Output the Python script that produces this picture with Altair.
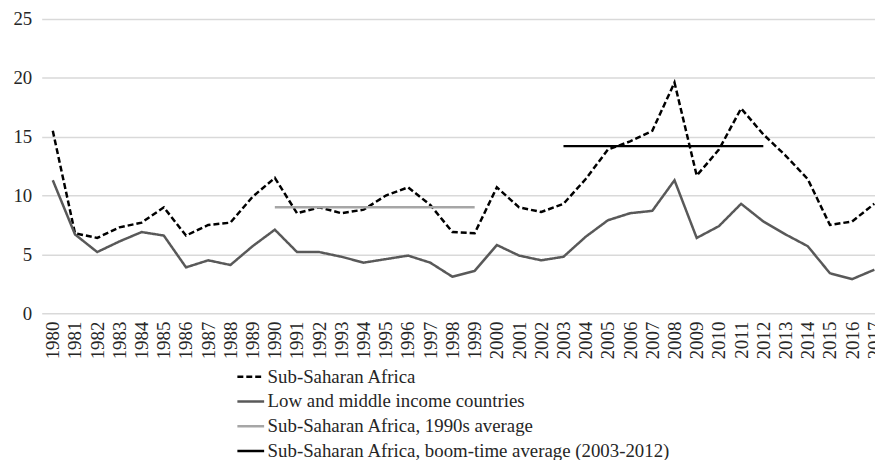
import altair as alt
import pandas as pd

years = list(range(1980, 2018))
ssa = [15.5, 6.8, 6.4, 7.3, 7.7, 9.0, 6.6, 7.5, 7.7, 9.9,
       11.5, 8.5, 9.0, 8.5, 8.8, 10.0, 10.7, 9.2, 6.9, 6.8,
       10.7, 9.0, 8.6, 9.3, 11.4, 13.9, 14.6, 15.5, 19.6, 11.7,
       13.9, 17.4, 15.2, 13.4, 11.4, 7.5, 7.8, 9.3]
lmic = [11.3, 6.7, 5.2, 6.1, 6.9, 6.6, 3.9, 4.5, 4.1, 5.7,
        7.1, 5.2, 5.2, 4.8, 4.3, 4.6, 4.9, 4.3, 3.1, 3.6,
        5.8, 4.9, 4.5, 4.8, 6.5, 7.9, 8.5, 8.7, 11.3, 6.4,
        7.4, 9.3, 7.8, 6.7, 5.7, 3.4, 2.9, 3.7]

series_names = [
    "Sub-Saharan Africa",
    "Low and middle income countries",
    "Sub-Saharan Africa, 1990s average",
    "Sub-Saharan Africa, boom-time average (2003-2012)",
]
avg_names = series_names[2:]
avg_start = [1990, 2003]
avg_end = [1999, 2012]
avg_values = [9.0, 14.2]

colors = ["#000000", "#595959", "#a6a6a6", "#000000"]
dashes = [[6, 3], [1, 0], [1, 0], [1, 0]]

lines_df = pd.DataFrame({
    "year": years * 2,
    "value": ssa + lmic,
    "series": [series_names[0]] * len(years) + [series_names[1]] * len(years),
})
avg_df = pd.DataFrame({
    "series": avg_names, "start": avg_start, "end": avg_end, "value": avg_values,
})

FONT = "Liberation Serif"
color_scale = alt.Scale(domain=series_names, range=colors)
dash_scale = alt.Scale(domain=series_names, range=dashes)

x_axis = alt.Axis(values=years, format="d", labelAngle=270, grid=False, ticks=False,
                  domain=False, title=None, labelPadding=8)
y_axis = alt.Axis(values=[0, 5, 10, 15, 20, 25], grid=True, ticks=False, domain=False,
                  title=None, labelPadding=10)

x_scale = alt.Scale(domain=[1979.5, 2017.03], nice=False, zero=False)
y_scale = alt.Scale(domain=[0, 25], nice=False)

lines = alt.Chart(lines_df).mark_line(strokeWidth=2.5).encode(
    x=alt.X("year:Q", scale=x_scale, axis=x_axis),
    y=alt.Y("value:Q", scale=y_scale, axis=y_axis),
    color=alt.Color("series:N", scale=color_scale, sort=series_names, title=None),
    strokeDash=alt.StrokeDash("series:N", scale=dash_scale, sort=series_names, title=None),
)

rules = alt.Chart(avg_df).mark_rule(strokeWidth=2.5).encode(
    x=alt.X("start:Q", scale=x_scale, axis=x_axis),
    x2="end:Q",
    y=alt.Y("value:Q", scale=y_scale, axis=y_axis),
    color=alt.Color("series:N", scale=color_scale, sort=series_names, title=None),
    strokeDash=alt.StrokeDash("series:N", scale=dash_scale, sort=series_names, title=None),
)

chart = alt.layer(lines, rules).properties(
    width=841, height=297,
    autosize=alt.AutoSizeParams(type="none"),
    padding={"left": 34, "top": 9, "right": 0, "bottom": 146},
    background="white",
).configure_view(stroke=None).configure_axis(
    labelFont=FONT, labelFontSize=19, labelColor="#262626",
    gridColor="#d9d9d9", gridWidth=1.5,
).configure_legend(
    orient="none", legendX=196, legendY=346, direction="vertical",
    symbolType="stroke", symbolSize=729, symbolStrokeWidth=2.5,
    labelFont=FONT, labelFontSize=19, labelColor="#262626",
    rowPadding=-4, labelOffset=2, padding=0, labelLimit=700,
)

chart.save("out.html", embed_options={"renderer": "svg", "actions": False})
